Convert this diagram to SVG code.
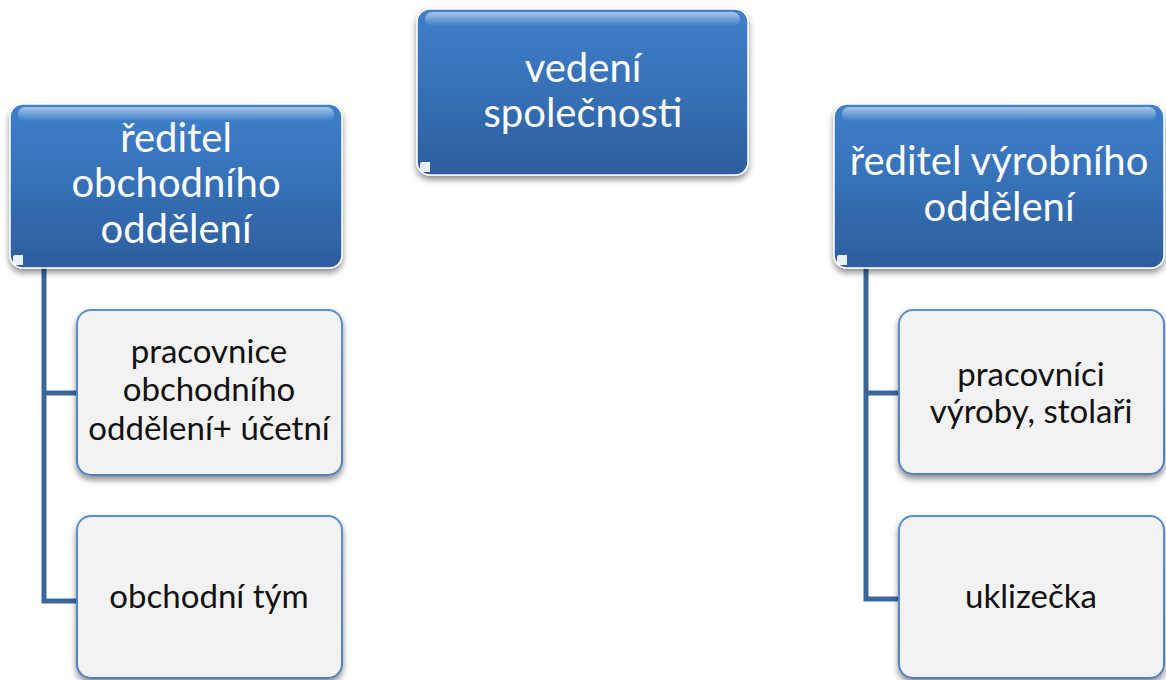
<svg xmlns="http://www.w3.org/2000/svg" width="1166" height="680" viewBox="0 0 1166 680">
<defs>
  <linearGradient id="blueFill" x1="0" y1="0" x2="0" y2="1">
    <stop offset="0" stop-color="#3f7fcb"/>
    <stop offset="0.5" stop-color="#3670b6"/>
    <stop offset="1" stop-color="#2d5e9c"/>
  </linearGradient>
  <linearGradient id="gloss" x1="0" y1="0" x2="0" y2="1">
    <stop offset="0" stop-color="#ffffff" stop-opacity="0.55"/>
    <stop offset="1" stop-color="#ffffff" stop-opacity="0"/>
  </linearGradient>
  <linearGradient id="childStroke" x1="0" y1="0" x2="0" y2="1">
    <stop offset="0" stop-color="#5b8fd0"/>
    <stop offset="1" stop-color="#4f7fbf"/>
  </linearGradient>
  <filter id="shadow" x="-10%" y="-10%" width="120%" height="130%">
    <feGaussianBlur in="SourceAlpha" stdDeviation="3"/>
    <feOffset dx="0" dy="4" result="b"/>
    <feComponentTransfer><feFuncA type="linear" slope="0.45"/></feComponentTransfer>
    <feMerge><feMergeNode/><feMergeNode in="SourceGraphic"/></feMerge>
  </filter>
</defs>
<style>
  .parent { fill: url(#blueFill); stroke: #ffffff; stroke-width: 1.5; filter: url(#shadow); }
  .gloss { fill: url(#gloss); }
  .corner { fill: #ffffff; opacity: 0.9; }
  .child { fill: #f2f2f2; stroke: url(#childStroke); stroke-width: 2; filter: url(#shadow); }
  .ptext { font-family: Lato, "Open Sans", "Liberation Sans", sans-serif; font-size: 40px; fill: #ffffff; text-anchor: middle; }
  .ctext { font-family: Lato, "Open Sans", "Liberation Sans", sans-serif; font-size: 33px; fill: #111111; text-anchor: middle; }
  .conn { fill: none; stroke: #3b669d; stroke-width: 5; stroke-linejoin: miter; }
</style>
<rect width="1166" height="680" fill="#ffffff"/>

<g id="connectors">
  <path class="conn" d="M44 266 V601 H78 M44 393 H78"/>
  <path class="conn" d="M866 266 V599 H900 M866 393 H900"/>
</g>

<g id="node-vedeni">
  <rect class="parent" x="417" y="9" width="331" height="166" rx="13"/>
  <rect class="gloss" x="425" y="12" width="315" height="14" rx="7"/>
  <path class="corner" d="M420 172 V164 Q420 162 422 162 H430 V172 Z"/>
  <text class="ptext" x="583" y="82">vedení</text>
  <text class="ptext" x="583" y="127">společnosti</text>
</g>

<g id="node-obchod">
  <rect class="parent" x="10" y="104" width="332" height="164" rx="13"/>
  <rect class="gloss" x="18" y="107" width="316" height="14" rx="7"/>
  <path class="corner" d="M13 265 V257 Q13 255 15 255 H23 V265 Z"/>
  <text class="ptext" x="176" y="152">ředitel</text>
  <text class="ptext" x="176" y="197">obchodního</text>
  <text class="ptext" x="176" y="243">oddělení</text>
</g>

<g id="node-vyroba">
  <rect class="parent" x="834" y="104" width="330" height="164" rx="13"/>
  <rect class="gloss" x="842" y="107" width="314" height="14" rx="7"/>
  <path class="corner" d="M837 265 V257 Q837 255 839 255 H847 V265 Z"/>
  <text class="ptext" x="999" y="175">ředitel výrobního</text>
  <text class="ptext" x="999" y="221">oddělení</text>
</g>

<g id="node-pracovnice">
  <rect class="child" x="77" y="310" width="265" height="165" rx="14"/>
  <text class="ctext" x="209" y="363">pracovnice</text>
  <text class="ctext" x="209" y="401">obchodního</text>
  <text class="ctext" x="209" y="440">oddělení+ účetní</text>
</g>

<g id="node-tym">
  <rect class="child" x="77" y="516" width="265" height="162" rx="14"/>
  <text class="ctext" x="209" y="608">obchodní tým</text>
</g>

<g id="node-pracovnici">
  <rect class="child" x="899" y="310" width="265" height="164" rx="14"/>
  <text class="ctext" x="1031" y="386">pracovníci</text>
  <text class="ctext" x="1031" y="423">výroby, stolaři</text>
</g>

<g id="node-uklizecka">
  <rect class="child" x="899" y="516" width="265" height="162" rx="14"/>
  <text class="ctext" x="1031" y="608">uklizečka</text>
</g>
</svg>
